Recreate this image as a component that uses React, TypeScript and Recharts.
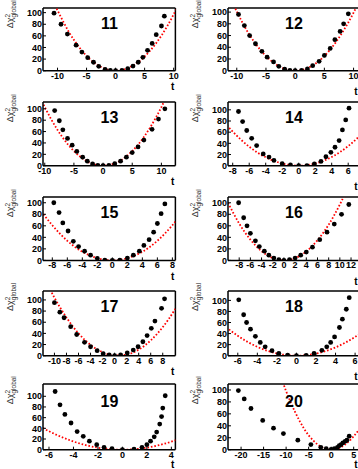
import React from 'react';
import { ComposedChart, Line, Scatter, XAxis, YAxis, ReferenceLine } from 'recharts';

// ---- data (t, delta chi2) ----
const p11T = [-10.6, -9.4, -8.3, -6.8, -5.8, -4.8, -3.8, -2.9, -1.8, -0.9, 0, 1.1, 2.1, 3.0, 3.9, 4.7, 5.5, 6.3, 7.0, 7.9, 8.4];
const p11V = [99, 80, 63, 44, 32, 22.5, 14.5, 7.5, 2.3, 0.6, 0, 0.6, 3.5, 8, 14.5, 23, 35, 47, 62, 77, 94];
const p11FitT = [-12, -10, -8, -6, -4, -2, 0, 2, 4, 6, 8, 10, 11];
const p11FitV = [145, 104, 66, 37, 16, 4, 0, 4, 15.5, 35, 62, 97, 117];

const p12T = [-9.7, -8.7, -7.8, -6.8, -5.7, -4.8, -3.7, -2.8, -1.8, -0.9, 0, 1.1, 2.1, 3.0, 4.1, 5.0, 6.0, 6.8, 7.7, 8.3, 9.1];
const p12V = [96, 77, 60, 46, 33, 23, 15, 7.5, 2.5, 0.5, 0, 0.5, 3, 8.5, 16, 26, 38, 53, 67, 80, 97];
const p12FitT = [-12, -10, -8, -6, -4, -2, 0, 2, 4, 6, 8, 10, 12];
const p12FitV = [144, 101, 64, 36, 16, 4, 0, 4, 16, 36, 64, 99, 143];

const p13T = [-8.3, -7.5, -6.9, -6.1, -5.3, -4.5, -3.5, -2.7, -1.8, -0.9, 0, 1.0, 2.0, 3.0, 4.0, 5.0, 6.0, 7.0, 8.4, 9.5, 10.6];
const p13V = [97, 79, 63, 48, 36, 25, 15, 8, 3, 0.6, 0, 0.6, 3.5, 8, 15, 23, 33, 45, 64, 82, 100];
const p13FitT = [-11, -10, -8, -6, -4, -2, 0, 2, 4, 6, 8, 10, 12];
const p13FitV = [124, 103, 66, 37, 16.5, 4, 0, 4, 16.5, 37, 66, 103, 148];

const p14T = [-7.3, -6.8, -6.3, -5.7, -5.1, -4.3, -3.6, -3.0, -2.0, -1.0, 0, 1.0, 1.9, 2.7, 3.3, 3.9, 4.4, 4.9, 5.3, 5.7, 6.1];
const p14V = [97, 79, 63, 49, 36, 21, 15.5, 9.5, 3.6, 1.2, 0, 0, 3, 7.7, 16, 24, 33, 45, 64, 82, 103];
const p14FitT = [-9, -8, -6, -4, -2, 0, 2, 4, 6, 8];
const p14FitV = [77, 61, 34, 15, 4, 0, 4, 15.5, 35, 62];

const p15T = [-7.8, -7.1, -6.6, -5.9, -5.2, -4.5, -3.7, -2.9, -2.0, -1.0, 0, 1.0, 2.0, 2.8, 3.6, 4.2, 4.9, 5.5, 6.0, 6.5, 7.0];
const p15V = [100, 83, 65, 51, 33, 24, 16, 9, 3.5, 0.6, 0, 0.6, 4, 9, 16, 26, 36, 49, 64, 81, 98];
const p15FitT = [-10, -9, -8, -6, -4, -2, 0, 2, 4, 6, 8, 9];
const p15FitV = [95, 77, 61, 34, 15, 4, 0, 4, 15, 34, 61, 77];

const p16T = [-8.1, -7.2, -6.6, -6.0, -5.1, -4.4, -3.5, -2.7, -1.8, -0.9, 0, 1.0, 2.0, 3.0, 4.0, 5.1, 6.4, 7.7, 9.0, 10.3, 11.6];
const p16V = [100, 74, 60, 47, 34, 24, 16, 9, 4, 1.2, 0, 1.2, 4, 9, 14.5, 23, 36, 49, 63, 80, 97];
const p16FitT = [-10, -8, -6, -4, -2, 0, 2, 4, 6, 8, 10, 11, 12];
const p16FitV = [100, 64, 36, 16, 4, 0, 4, 15.5, 35, 62, 97, 117, 139];

const p17T = [-10.0, -9.1, -8.4, -7.3, -6.3, -5.0, -4.0, -2.9, -1.9, -0.9, 0, 1.0, 2.1, 3.1, 3.9, 4.7, 5.4, 6.1, 6.7, 7.8, 8.3];
const p17V = [95, 78, 68, 52, 38, 24, 16, 9, 3.6, 1.2, 0, 1.2, 4.8, 10, 16, 25, 36, 49, 62, 85, 102];
const p17FitT = [-12, -10, -8, -6, -4, -2, 0, 2, 4, 6, 8, 10, 11];
const p17FitV = [147, 104, 68.5, 40, 19.5, 6.2, 0.3, 1.9, 10.9, 27.3, 51.2, 82.5, 101];

const p18T = [-5.9, -5.4, -5.1, -4.7, -4.2, -3.7, -3.2, -2.5, -1.8, -0.9, 0, 1.0, 1.8, 2.6, 3.1, 3.5, 3.9, 4.4, 4.7, 5.1, 5.4];
const p18V = [101, 74, 60, 48, 35, 24, 16, 9, 4, 1.2, 0, 0.6, 4, 9.7, 16, 24, 34, 51, 66, 84, 105];
const p18FitT = [-8, -7, -6, -4, -2, 0, 2, 4, 6, 7, 8];
const p18FitV = [64, 49, 36, 16, 4, 0, 3.8, 15, 34, 46, 60];

const p19T = [-5.5, -5.1, -4.7, -4.2, -3.7, -3.2, -2.7, -2.1, -1.5, -0.85, 0, 0.95, 1.6, 2.0, 2.3, 2.6, 2.8, 3.05, 3.2, 3.3, 3.5];
const p19V = [109, 84, 66, 50, 34, 25, 16, 9.4, 4.4, 1.9, 0, 1.2, 4.4, 9.4, 16, 24, 33, 48, 62, 78, 101];
const p19FitT = [-7, -6, -5, -4, -3, -2, -1, 0, 1, 2, 3, 4, 5];
const p19FitV = [47, 34.5, 24, 15.3, 8.6, 3.8, 1, 0, 1, 3.8, 8.5, 15, 23];

const p20T = [-20.6, -19.3, -17.8, -15.2, -12.8, -10.6, -7.4, -4.5, -2.3, -1.1, 0, 0.7, 1.4, 1.8, 2.2, 2.6, 3.1, 3.5, 4.0];
const p20V = [99, 85, 69, 49, 36, 27, 16, 8.5, 4, 1.7, 0.6, 1.7, 4, 6.8, 8.5, 11.3, 14, 15.8, 22.6];
const p20FitT = [-12, -10, -8, -6, -4, -2, 0, 2, 4, 6, 7];
const p20FitV = [141, 98, 63, 35, 15.5, 4, 0, 3.6, 14.5, 32, 44];

const yTicks = [0, 20, 40, 60, 80, 100];
const ticks10 = [-10, -5, 0, 5, 10];
const ticks14 = [-8, -6, -4, -2, 0, 2, 4, 6];
const ticks15 = [-8, -6, -4, -2, 0, 2, 4, 6, 8];
const ticks16 = [-8, -6, -4, -2, 0, 2, 4, 6, 8, 10, 12];
const ticks17 = [-10, -8, -6, -4, -2, 0, 2, 4, 6, 8];
const ticks18 = [-6, -4, -2, 0, 2, 4, 6];
const ticks19 = [-6, -4, -2, 0, 2, 4];
const ticks20 = [-20, -15, -10, -5, 0, 5];

const toRows = (t: number[], v: number[]) => t.map((x, i) => ({ t: x, v: v[i] }));

const FONT = '"Liberation Sans", Arial, Helvetica, sans-serif';
const COLS = [[43.3, 175.7], [228, 360]];
const ROWS = [[8.3, 71], [102.3, 166], [197.3, 260.7], [291, 355.7], [384.3, 450]];

const panels = [
  { name: '11', col: 0, row: 0, t: p11T, v: p11V, ft: p11FitT, fv: p11FitV, xd: [-12.5, 10.3], yd: [0, 108], xt: ticks10 },
  { name: '12', col: 1, row: 0, t: p12T, v: p12V, ft: p12FitT, fv: p12FitV, xd: [-11.5, 11.1], yd: [0, 107], xt: ticks10 },
  { name: '13', col: 0, row: 1, t: p13T, v: p13V, ft: p13FitT, fv: p13FitV, xd: [-10.3, 12.4], yd: [0, 112], xt: ticks10 },
  { name: '14', col: 1, row: 1, t: p14T, v: p14V, ft: p14FitT, fv: p14FitV, xd: [-8.57, 7.43], yd: [0, 114], xt: ticks14 },
  { name: '15', col: 0, row: 2, t: p15T, v: p15V, ft: p15FitT, fv: p15FitV, xd: [-9.24, 8.4], yd: [0, 110], xt: ticks15 },
  { name: '16', col: 1, row: 2, t: p16T, v: p16V, ft: p16FitT, fv: p16FitV, xd: [-10.0, 13.6], yd: [0, 110], xt: ticks16 },
  { name: '17', col: 0, row: 3, t: p17T, v: p17V, ft: p17FitT, fv: p17FitV, xd: [-11.9, 10.1], yd: [0, 116], xt: ticks17 },
  { name: '18', col: 1, row: 3, t: p18T, v: p18V, ft: p18FitT, fv: p18FitV, xd: [-7.0, 6.5], yd: [0, 117], xt: ticks18 },
  { name: '19', col: 0, row: 4, t: p19T, v: p19V, ft: p19FitT, fv: p19FitV, xd: [-6.49, 4.33], yd: [0, 123], xt: ticks19 },
  { name: '20', col: 1, row: 4, t: p20T, v: p20V, ft: p20FitT, fv: p20FitV, xd: [-22.9, 6.4], yd: [0, 110], xt: ticks20 },
];

const PAD_L = 30;
const PAD_T = 5;
const PAD_R = 5;
const PAD_B = 16;

const tickStyle = { fill: '#000', fontSize: 9, fontWeight: 'bold', fontFamily: FONT };
const frameLine = { stroke: '#000', strokeWidth: 1.5 };

const Dot = (props: any) => <circle cx={props.cx} cy={props.cy} r={2.4} fill="#000" />;

function Panel({ p }: { p: any }) {
  const [x0, x1] = COLS[p.col];
  const [y0, y1] = ROWS[p.row];
  const w = x1 - x0;
  const h = y1 - y0;
  return (
    <div style={{ position: 'absolute', left: x0 - PAD_L, top: y0 - PAD_T }}>
      <ComposedChart width={w + PAD_L + PAD_R} height={h + PAD_T + PAD_B} margin={{ top: PAD_T, right: PAD_R, bottom: 0, left: 0 }}>
        <XAxis type="number" dataKey="t" domain={p.xd} allowDataOverflow ticks={p.xt} interval={0} height={PAD_B}
          axisLine={frameLine} tickSize={-3} tickMargin={4.5} tickLine={{ stroke: '#000' }} tick={tickStyle} />
        <YAxis type="number" dataKey="v" domain={p.yd} allowDataOverflow ticks={yTicks} interval={0} width={PAD_L}
          axisLine={frameLine} tickSize={-3} tickMargin={4} tickLine={{ stroke: '#000' }} tick={tickStyle} />
        <ReferenceLine y={p.yd[1]} stroke="#000" strokeWidth={1.5} ifOverflow="visible" />
        <ReferenceLine x={p.xd[1]} stroke="#000" strokeWidth={1.5} ifOverflow="visible" />
        <Line data={toRows(p.ft, p.fv)} dataKey="v" type="monotone" stroke="#ff0000" strokeWidth={1.8}
          strokeDasharray="1.6 1.9" dot={false} isAnimationActive={false} />
        <Scatter data={toRows(p.t, p.v)} dataKey="v" shape={Dot} isAnimationActive={false} />
      </ComposedChart>
    </div>
  );
}

function Labels() {
  return (
    <svg width={358} height={469} style={{ position: 'absolute', left: 0, top: 0, pointerEvents: 'none' }}>
      {panels.map((p) => {
        const [x0, x1] = COLS[p.col];
        const [y0, y1] = ROWS[p.row];
        const cx = (x0 + x1) / 2;
        const ty = p.row === 4 ? y0 + 23 : y0 + 21;
        const tLabelY = p.row === 4 ? y1 + 18 : p.col === 0 ? y1 + 19 : y1 + 24;
        const tLabelX = p.col === 0 ? x1 - 3 : x1 - 4;
        const lx = x0 - 30;
        const ly = y0 + 20;
        return (
          <g key={p.name} fontFamily={FONT}>
            <text x={cx} y={ty} textAnchor="middle" fontSize={16} fontWeight="bold" fill="#000">{p.name}</text>
            <text x={tLabelX} y={tLabelY} textAnchor="middle" fontSize={10} fontWeight="bold" fill="#000">t</text>
            <text transform={`translate(${lx},${ly}) rotate(-90)`} fontSize={9} fill="#333">
              Δχ<tspan dy={-3.5} fontSize={6.5}>2</tspan>
              <tspan dx={-3.6} dy={6} fontSize={6.5}>global</tspan>
            </text>
          </g>
        );
      })}
    </svg>
  );
}

export default function App() {
  return (
    <div style={{ position: 'absolute', left: 0, top: 0, width: 358, height: 469, overflow: 'hidden', background: '#fff' }}>
      {panels.map((p) => (
        <Panel key={p.name} p={p} />
      ))}
      <Labels />
    </div>
  );
}
